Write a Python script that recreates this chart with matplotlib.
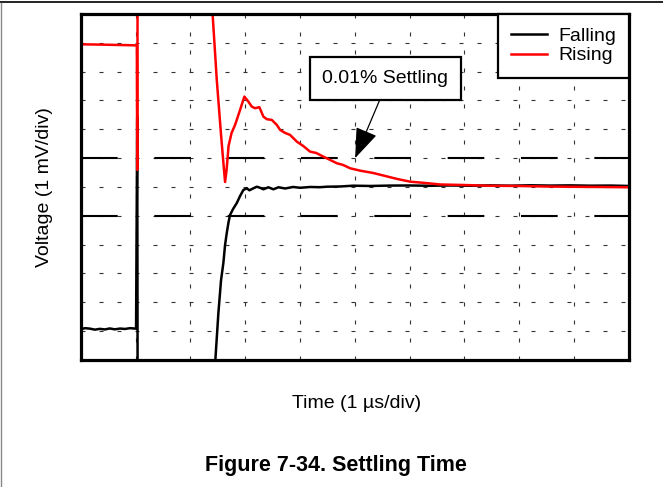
import matplotlib
matplotlib.use('Agg')
import matplotlib.pyplot as plt
from matplotlib.lines import Line2D

plt.rcParams['font.family'] = ['Liberation Sans', 'DejaVu Sans']

# ---- data (time in µs, voltage in mV relative to final value) ----
time_falling = [0.00, 0.08, 0.17, 0.26, 0.35, 0.44, 0.53, 0.62, 0.72, 0.81, 0.90, 1.01,
                1.031, 1.038, 2.438, 2.456, 2.511, 2.560, 2.602, 2.633, 2.664, 2.697,
                2.724, 2.779, 2.847, 2.907, 2.967, 3.029, 3.077, 3.150, 3.212, 3.272,
                3.332, 3.423, 3.515, 3.606, 3.728, 3.874, 4.002, 4.184, 4.367, 4.495,
                4.732, 4.969, 5.279, 5.644, 6.009, 6.374, 6.739, 7.104, 7.469, 7.834,
                8.199, 8.564, 8.929, 9.294, 9.659, 10.005]
volt_falling = [-4.931, -4.896, -4.913, -4.948, -4.920, -4.941, -4.906, -4.937, -4.910, -4.924,
                -4.896, -4.913, 2.43, -6.70, -6.53, -6.007, -4.375, -3.229, -2.639, -2.014,
                -1.597, -1.215, -0.972, -0.764, -0.556, -0.313, -0.104, -0.045, -0.115, -0.045,
                0.010, -0.028, -0.080, -0.010, -0.080, -0.010, -0.052, 0.000, -0.028, 0.000,
                -0.007, 0.010, 0.017, 0.045, 0.035, 0.049, 0.052, 0.042, 0.052, 0.042,
                0.056, 0.045, 0.059, 0.049, 0.056, 0.045, 0.049, 0.035]

time_rising = [0.00, 0.17, 0.352, 0.535, 0.717, 0.900, 1.024, 1.031, 1.038, 2.381,
               2.482, 2.560, 2.606, 2.633, 2.661, 2.697, 2.752, 2.816, 2.907, 2.985,
               3.058, 3.120, 3.181, 3.259, 3.332, 3.394, 3.485, 3.577, 3.637, 3.728,
               3.819, 3.942, 4.057, 4.184, 4.294, 4.427, 4.549, 4.672, 4.786, 4.914,
               5.097, 5.334, 5.553, 5.772, 6.009, 6.283, 6.557, 6.976, 7.469, 7.962,
               8.473, 8.929, 9.476, 10.005]
volt_rising = [4.948, 4.944, 4.938, 4.931, 4.924, 4.917, 4.910, 0.59, 6.80, 6.74,
               3.715, 1.806, 0.764, 0.174, 0.590, 1.424, 1.875, 2.153, 2.674, 3.135,
               2.962, 2.788, 2.733, 2.767, 2.441, 2.351, 2.326, 2.153, 1.979, 1.875,
               1.806, 1.573, 1.424, 1.226, 1.181, 1.052, 0.938, 0.823, 0.764, 0.649,
               0.566, 0.486, 0.382, 0.278, 0.184, 0.139, 0.087, 0.069, 0.042, 0.035,
               0.017, 0.007, 0.000, -0.010]

band_levels = [1.0, -1.0]
x_ticks = list(range(0, 11))
y_ticks = list(range(-6, 7))
series_labels = ['Falling', 'Rising']
x_label = 'Time (1 µs/div)'
y_label = 'Voltage (1 mV/div)'
caption = 'Figure 7-34. Settling Time'
annotation_text = '0.01% Settling'
annotation_target = (5.005, 1.0)
annotation_text_pos = (5.553, 3.76)

# ---- figure ----
fig = plt.figure(figsize=(6.63, 4.87), dpi=100)
ax = fig.add_axes([0.1217, 0.2608, 0.827, 0.7105])
ax.set_xlim(0, 10)
ax.set_ylim(-6, 6)
ax.set_xticks(x_ticks)
ax.set_yticks(y_ticks)
ax.tick_params(length=0, labelbottom=False, labelleft=False)
ax.grid(True, color='#333333', lw=0.8, linestyle=(0, (3.6, 12.6)), zorder=1)
ax.set_axisbelow(True)
for s in ax.spines.values():
    s.set_linewidth(2.3)
    s.set_color('black')
    s.set_zorder(6)

for lvl in band_levels:
    ax.axhline(lvl, color='black', lw=1.5, linestyle=(0, (17.6, 17.6)), zorder=2)

ax.plot(time_falling, volt_falling, color='black', lw=1.8, label=series_labels[0], zorder=3)
ax.plot(time_rising, volt_rising, color='#ff0000', lw=1.8, label=series_labels[1], zorder=4)

leg = ax.legend(loc='upper right', bbox_to_anchor=(1, 1), borderaxespad=0,
                fancybox=False, framealpha=1, edgecolor='black', fontsize=14,
                handlelength=1.85, handletextpad=0.55, labelspacing=0.1,
                borderpad=0.68)
leg.get_frame().set_linewidth(1.6)
leg.set_zorder(7)

ax.annotate(annotation_text, xy=annotation_target, xytext=annotation_text_pos,
            ha='center', va='center', fontsize=14, zorder=8,
            bbox=dict(boxstyle='square,pad=0.65', fc='white', ec='black', lw=1.6),
            arrowprops=dict(arrowstyle='-|>,head_length=0.95,head_width=0.35',
                            mutation_scale=20, color='black', lw=0.9,
                            relpos=(0.5, 0.0), shrinkA=0, shrinkB=0))

fig.text(357 / 663, 1 - 403 / 487, x_label, ha='center', va='center', fontsize=14)
fig.text(45 / 663, 1 - 187 / 487, y_label, ha='center', va='center', fontsize=14, rotation=90)
fig.text(336 / 663, 1 - 466 / 487, caption, ha='center', va='center', fontsize=15.5,
         fontweight='bold')

fig.add_artist(Line2D([0, 1], [1 - 1.5 / 487] * 2, transform=fig.transFigure,
                      color='#222222', lw=1.4))
fig.add_artist(Line2D([0.8 / 663] * 2, [0, 1 - 3 / 487], transform=fig.transFigure,
                      color='#888888', lw=1.0))

fig.savefig('out.png', dpi=100)
